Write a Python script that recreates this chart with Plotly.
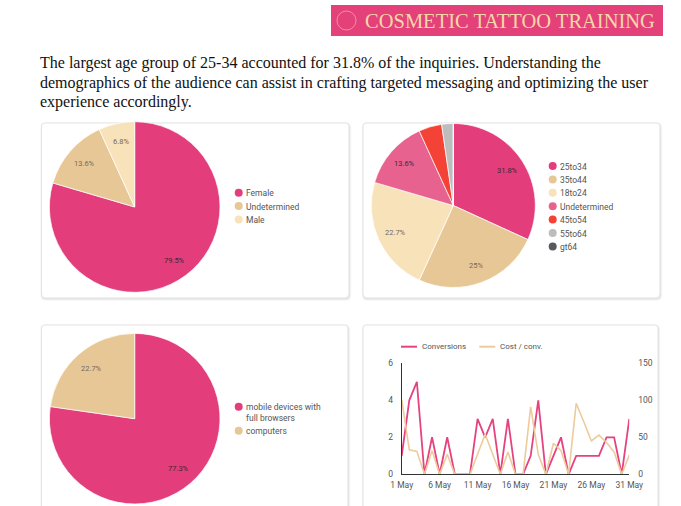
import math
import plotly.graph_objects as go

W, H = 681, 506

# ---------------- data ----------------
gender_labels = ["Female", "Undetermined", "Male"]
gender_values = [35, 6, 3]

age_labels = ["25to34", "35to44", "18to24", "Undetermined", "45to54", "55to64", "gt64"]
age_values = [14, 11, 10, 6, 2, 1, 0]

device_labels = ["mobile devices with<br>full browsers", "computers"]
device_values = [34, 10]

days = [f"2024-05-{d:02d}" for d in range(1, 32)]
conversions = [1, 4, 5, 0, 2, 0, 2, 0, 0, 0, 3, 2, 3, 0, 3, 0, 0, 1, 4, 0, 1, 2, 0, 1, 1, 1, 1, 2, 2, 0, 3]
cost_per_conv = [101, 33, 31, 0, 32, 0, 27, 0, 0, 0, 27, 54, 27, 0, 30, 0, 0, 91, 27, 0, 42, 32, 0, 96, 71, 45, 53, 43, 30, 0, 26]
line_names = ["Conversions", "Cost / conv."]

header_text = "COSMETIC TATTOO TRAINING"
intro_lines = [
    "The largest age group of 25-34 accounted for 31.8% of the inquiries. Understanding the",
    "demographics of the audience can assist in crafting targeted messaging and optimizing the user",
    "experience accordingly.",
]

# ---------------- styles ----------------
PINK = "#E33D7B"
TAN = "#E8C796"
PALE = "#F7E2BA"
LPINK = "#E8628F"
RED = "#F44336"
GRAY = "#BDBDBD"
DARK = "#5A5A5E"
gender_colors = [PINK, TAN, PALE]
age_colors = [PINK, TAN, PALE, LPINK, RED, GRAY, DARK]
device_colors = [PINK, TAN]
line_colors = ["#E6427F", "#EDCB9C"]
FONT = "Roboto"
TXT = "#555555"


def px_x(v):
    return v / W


def px_y(v):
    return 1 - v / H


fig = go.Figure()
annotations = []


def add_pie(labels, values, colors, cx, cy, r, k=0.78, thr=5.0):
    fig.add_trace(go.Pie(
        labels=labels, values=values, sort=False, direction="clockwise", rotation=0,
        marker=dict(colors=colors, line=dict(color="white", width=0.7)),
        textinfo="none", textposition="none",
        domain=dict(x=[px_x(cx - r), px_x(cx + r)], y=[px_y(cy + r), px_y(cy - r)]),
        showlegend=False, hoverinfo="label+percent",
    ))
    tot = float(sum(values))
    cum = 0.0
    for v, c in zip(values, colors):
        f = v / tot
        if f * 100 >= thr:
            th = 2 * math.pi * (cum + f / 2)
            annotations.append(dict(
                x=cx + k * r * math.sin(th), y=cy - k * r * math.cos(th), xref="x3", yref="y3",
                text=f"{round(f * 100, 1):g}%", showarrow=False, xanchor="center", yanchor="middle",
                font=dict(family=FONT, size=7.5,
                          color="#3a2a33" if c in (PINK, LPINK) else "#75685c")))
        cum += f


add_pie(gender_labels, gender_values, gender_colors, 134.7, 207.0, 85.3)
add_pie(age_labels, age_values, age_colors, 453.3, 205.5, 82.0)
add_pie(device_labels, device_values, device_colors, 134.7, 418.7, 85.3)

# line chart
fig.add_trace(go.Scatter(x=days, y=conversions, name=line_names[0], mode="lines",
                         line=dict(color=line_colors[0], width=1.8), xaxis="x", yaxis="y",
                         showlegend=False))
fig.add_trace(go.Scatter(x=days, y=cost_per_conv, name=line_names[1], mode="lines",
                         line=dict(color=line_colors[1], width=1.6), xaxis="x", yaxis="y2",
                         showlegend=False))


# custom legends on a pixel overlay axis
def add_legend(labels, colors, mx, my0, line_h=10.7, gap=2.7):
    ys = []
    y = my0
    for lab in labels:
        ys.append(y)
        n = lab.count("<br>") + 1
        y += n * line_h + gap
    fig.add_trace(go.Scatter(x=[mx] * len(labels), y=ys, mode="markers",
                             marker=dict(size=8, color=colors, line=dict(width=0)),
                             xaxis="x3", yaxis="y3", showlegend=False, hoverinfo="skip"))
    for lab, yy in zip(labels, ys):
        annotations.append(dict(x=mx + 5, y=yy - line_h / 2 - 1, xref="x3", yref="y3",
                                text=lab, showarrow=False, xanchor="left", yanchor="top",
                                align="left", font=dict(family=FONT, size=8.5, color=TXT)))


add_legend(gender_labels, gender_colors, 238.7, 192.7)
add_legend(age_labels, age_colors, 552.7, 166.0)
add_legend(device_labels, device_colors, 238.7, 406.7)

# line chart legend (horizontal)
leg_item_x = [401, 479.3]
leg_y = 346.7
for name, col, lx in zip(line_names, line_colors, leg_item_x):
    fig.add_trace(go.Scatter(x=[lx, lx + 16], y=[leg_y, leg_y], mode="lines",
                             line=dict(color=col, width=2), xaxis="x3", yaxis="y3",
                             showlegend=False, hoverinfo="skip"))
    annotations.append(dict(x=lx + 18.5, y=leg_y, xref="x3", yref="y3", text=name,
                            showarrow=False, xanchor="left", yanchor="middle",
                            font=dict(family=FONT, size=8, color=TXT)))


# cards / header as paper shapes (pixel coords converted to paper)
def rrect(x0, y0, x1, y1, r):
    X = lambda v: f"{px_x(v):.5f}"
    Y = lambda v: f"{px_y(v):.5f}"
    return (f"M{X(x0 + r)},{Y(y0)} L{X(x1 - r)},{Y(y0)} Q{X(x1)},{Y(y0)} {X(x1)},{Y(y0 + r)} "
            f"L{X(x1)},{Y(y1 - r)} Q{X(x1)},{Y(y1)} {X(x1 - r)},{Y(y1)} L{X(x0 + r)},{Y(y1)} "
            f"Q{X(x0)},{Y(y1)} {X(x0)},{Y(y1 - r)} L{X(x0)},{Y(y0 + r)} Q{X(x0)},{Y(y0)} {X(x0 + r)},{Y(y0)} Z")


shapes = []
cards = [(41.5, 123, 349, 298), (363, 123, 660, 298), (41.5, 325, 348, 520), (363, 325, 658, 520)]
for (x0, y0, x1, y1) in cards:
    for kk, a in [(2.0, 0.02), (1.2, 0.035), (0.6, 0.05)]:
        shapes.append(dict(type="path", path=rrect(x0 - kk + 0.5, y0 - kk + 1, x1 + kk + 0.5, y1 + kk + 1, 5),
                           xref="paper", yref="paper", fillcolor=f"rgba(0,0,0,{a})",
                           line=dict(width=0), layer="below"))
    shapes.append(dict(type="path", path=rrect(x0, y0, x1, y1, 4), xref="paper", yref="paper",
                       fillcolor="white", line=dict(color="#E4E4E4", width=1), layer="below"))

# header banner
shapes.append(dict(type="rect", x0=px_x(331), x1=px_x(663), y0=px_y(36), y1=px_y(5),
                   xref="paper", yref="paper", fillcolor="#E4417B", line=dict(width=0), layer="below"))
shapes.append(dict(type="circle", x0=px_x(337), x1=px_x(356), y0=px_y(30), y1=px_y(11),
                   xref="paper", yref="paper",
                   line=dict(color="rgba(246,214,168,0.55)", width=1), layer="above"))
annotations.append(dict(x=363, y=21, xref="x3", yref="y3", text=header_text, showarrow=False,
                        xanchor="left", yanchor="middle",
                        font=dict(family="Liberation Serif", size=20.5, color="#F5D7A6")))

# intro paragraph, one annotation per line
for i, line in enumerate(intro_lines):
    annotations.append(dict(x=38, y=63.3 + i * 19.3, xref="x3", yref="y3", text=line,
                            showarrow=False, xanchor="left", yanchor="middle", align="left",
                            font=dict(family="Liberation Serif", size=16, color="#111111")))

axis_font = dict(family=FONT, size=8.5, color=TXT)
fig.update_layout(
    width=W, height=H, autosize=False,
    margin=dict(l=0, r=0, t=0, b=0, pad=0, autoexpand=False),
    paper_bgcolor="white", plot_bgcolor="rgba(0,0,0,0)",
    shapes=shapes, annotations=annotations, showlegend=False,
    xaxis=dict(domain=[px_x(401.7), px_x(629.3)], range=["2024-05-01", "2024-05-31"],
               tick0="2024-05-01", dtick=5 * 86400000, tickformat="%-d %b",
               showgrid=False, zeroline=False, showline=True, linecolor="#333333", linewidth=1,
               ticks="", tickfont=axis_font, ticklabelstandoff=2, anchor="y", automargin=False),
    yaxis=dict(domain=[px_y(474.3), px_y(363.3)], range=[0, 6], dtick=2,
               showgrid=False, zeroline=False, showline=True, linecolor="#333333", linewidth=1,
               ticks="", tickfont=axis_font, ticklabelstandoff=6, anchor="x", automargin=False),
    yaxis2=dict(domain=[px_y(474.3), px_y(363.3)], range=[0, 150], dtick=50, overlaying="y",
                side="right", showgrid=False, zeroline=False, showline=False, ticks="",
                tickfont=axis_font, ticklabelstandoff=8, anchor="x", automargin=False),
    xaxis3=dict(domain=[0, 1], range=[0, W], visible=False, anchor="y3", automargin=False),
    yaxis3=dict(domain=[0, 1], range=[H, 0], visible=False, anchor="x3", automargin=False),
)

fig.write_html("out.html", config={"displayModeBar": False},
               post_script="document.body.style.margin='0px';")
